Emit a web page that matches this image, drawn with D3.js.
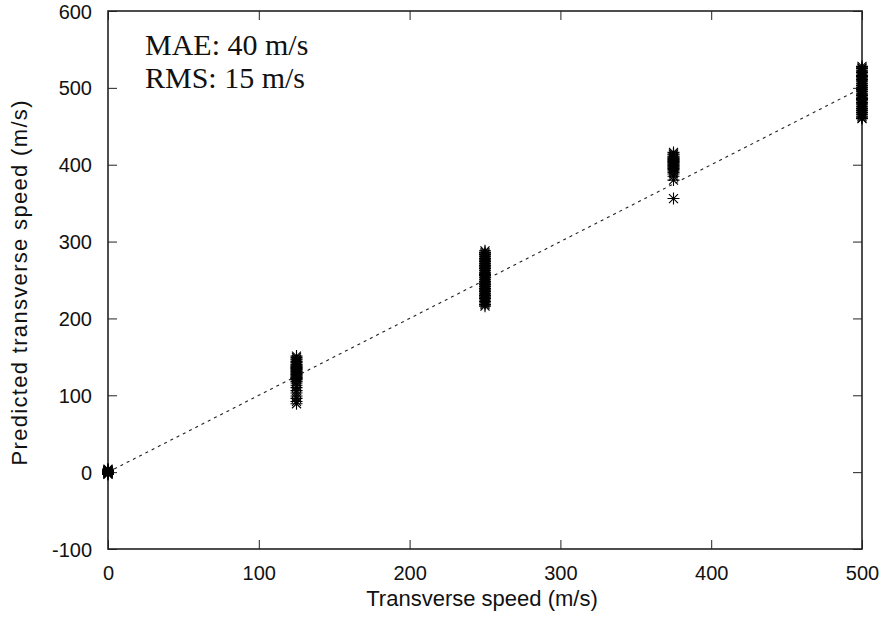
<!DOCTYPE html>
<html><head><meta charset="utf-8">
<script src="https://cdn.jsdelivr.net/npm/d3@7"></script>
<style>body{margin:0;background:#fff}</style>
</head><body>
<svg id="chart" width="886" height="621"></svg>
<script>
// ---- data ----
const trueSpeeds = [0, 125, 250, 375, 500];
const pred0 = [-3, -2, -1, 0, 0, 1, 1, 2, 3, -2, 0, 2, 4, -1, 1];
const pred125 = [151, 149, 147, 146, 144, 143, 142, 140, 139, 138, 137, 136, 135, 134, 133, 132, 131, 130, 129, 128, 127, 126, 125, 124, 123, 122, 121, 120, 118, 116, 113, 110, 106, 103, 99, 96, 92, 89];
const pred250 = [288, 286, 284, 283, 281, 280, 278, 277, 275, 274, 272, 271, 269, 268, 266, 265, 263, 262, 260, 259, 257, 256, 254, 253, 251, 250, 248, 247, 245, 244, 242, 241, 239, 238, 236, 235, 233, 232, 230, 229, 227, 226, 224, 222, 220, 218, 216];
const pred375 = [416, 414, 413, 411, 410, 409, 408, 407, 406, 405, 404, 403, 402, 401, 400, 399, 398, 397, 396, 395, 394, 392, 390, 388, 385, 380, 356];
const pred500 = [528, 526, 525, 523, 521, 520, 518, 516, 515, 513, 511, 510, 508, 506, 505, 503, 501, 500, 498, 496, 495, 493, 491, 490, 488, 486, 485, 483, 481, 480, 478, 476, 475, 473, 471, 470, 468, 466, 465, 463, 461, 460];
const predictions = [pred0, pred125, pred250, pred375, pred500];
const xTicks = [0, 100, 200, 300, 400, 500];
const yTicks = [-100, 0, 100, 200, 300, 400, 500, 600];
const idealLine = [0, 500];
const annotations = ["MAE: 40 m/s", "RMS: 15 m/s"];
const xTitle = "Transverse speed (m/s)";
const yTitle = "Predicted transverse speed (m/s)";

// ---- layout ----
const L = 108, R = 862, T = 11, B = 549;
const svg = d3.select("#chart");
const x = d3.scaleLinear().domain([0, 500]).range([L, R]);
const y = d3.scaleLinear().domain([-100, 600]).range([B, T]);
const tickLen = 9;
const font = "'Liberation Sans', Arial, sans-serif";
const fmt = d => String(d);

// axes (ticks inward, mirrored)
const gx = svg.append("g").attr("transform", `translate(0,${B})`)
  .call(d3.axisBottom(x).tickValues(xTicks).tickFormat(fmt).tickSizeInner(-tickLen).tickSizeOuter(0).tickPadding(17));
const gxt = svg.append("g").attr("transform", `translate(0,${T})`)
  .call(d3.axisTop(x).tickValues(xTicks).tickSizeInner(-tickLen).tickSizeOuter(0).tickFormat(""));
const gy = svg.append("g").attr("transform", `translate(${L},0)`)
  .call(d3.axisLeft(y).tickValues(yTicks).tickFormat(fmt).tickSizeInner(-tickLen).tickSizeOuter(0).tickPadding(16));
const gyr = svg.append("g").attr("transform", `translate(${R},0)`)
  .call(d3.axisRight(y).tickValues(yTicks).tickSizeInner(-tickLen).tickSizeOuter(0).tickFormat(""));
[gx, gxt, gy, gyr].forEach(g => {
  g.select(".domain").remove();
  g.selectAll(".tick line").attr("stroke", "#222").attr("stroke-width", 1);
  g.selectAll(".tick text").attr("font-family", font).attr("font-size", 20).attr("fill", "#111");
});
gy.selectAll(".tick text").attr("dy", "0.35em");

// frame
svg.append("rect").attr("x", L).attr("y", T).attr("width", R - L).attr("height", B - T)
  .attr("fill", "none").attr("stroke", "#222").attr("stroke-width", 1.6);

// ideal dashed line
svg.append("line")
  .attr("x1", x(idealLine[0])).attr("y1", y(idealLine[0]))
  .attr("x2", x(idealLine[1])).attr("y2", y(idealLine[1]))
  .attr("stroke", "#222").attr("stroke-width", 1.1).attr("stroke-dasharray", "3,4");

// asterisk markers
const pts = [];
trueSpeeds.forEach((t, i) => predictions[i].forEach(p => pts.push([t, p])));
const s = 6;
const starPath = `M${-s},0H${s}M0,${-s}V${s}M${-s*0.75},${-s*0.75}L${s*0.75},${s*0.75}M${-s*0.75},${s*0.75}L${s*0.75},${-s*0.75}`;
svg.append("g").selectAll("path").data(pts).join("path")
  .attr("transform", d => `translate(${x(d[0])},${y(d[1])})`)
  .attr("d", starPath).attr("fill", "none").attr("stroke", "#000").attr("stroke-width", 1.1);

// annotations
svg.append("g").selectAll("text").data(annotations).join("text")
  .attr("x", 145).attr("y", (d, i) => 55 + i * 33)
  .attr("font-family", "'Liberation Serif', 'Times New Roman', serif")
  .attr("font-size", 30).attr("fill", "#111").text(d => d);

// axis titles
svg.append("text").attr("x", 482).attr("y", 606)
  .attr("text-anchor", "middle").attr("font-family", font).attr("font-size", 22).attr("fill", "#111").text(xTitle);
svg.append("text").attr("transform", `translate(27,283) rotate(-90)`)
  .attr("text-anchor", "middle").attr("font-family", font).attr("font-size", 22).attr("textLength", 365)
  .attr("lengthAdjust", "spacing").attr("fill", "#111").text(yTitle);
</script>
</body></html>
